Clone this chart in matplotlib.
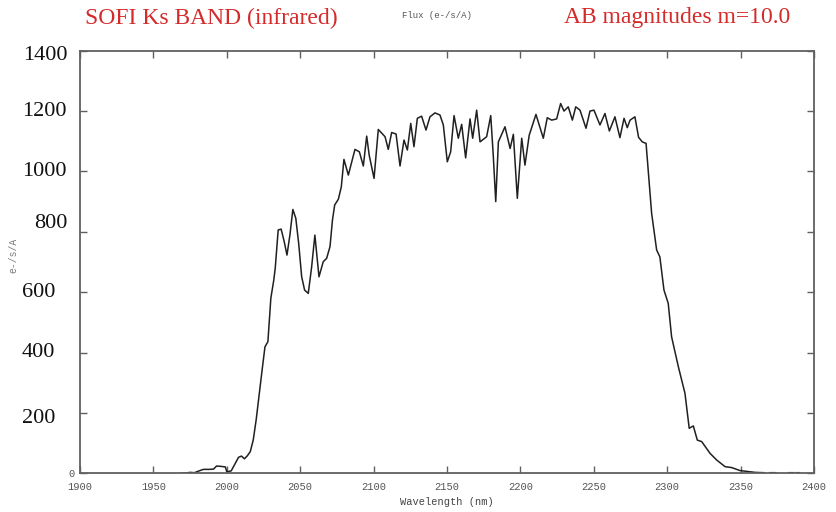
import numpy as np
import matplotlib
matplotlib.use("Agg")
import matplotlib.pyplot as plt
import matplotlib.transforms as mtransforms

# ---- data ----
wavelength = [1969, 1972, 1975, 1978, 1980, 1984, 1988, 1991, 1993, 1996, 1999, 2000,
              2003, 2006, 2008, 2010, 2012, 2014, 2016, 2018, 2020, 2022, 2024, 2026,
              2028, 2030, 2032, 2033, 2035, 2037, 2039, 2041, 2043, 2045, 2047, 2049,
              2051, 2053, 2055.5, 2057.8, 2060, 2062.8, 2065.7, 2068, 2070.3, 2072,
              2073.5, 2076, 2078, 2079.8, 2082.8, 2087.3, 2090.3, 2093, 2095.3, 2097,
              2100.3, 2103.2, 2107.8, 2110, 2112.3, 2115.3, 2118, 2120.7, 2123, 2125.3,
              2127.5, 2129.8, 2132.7, 2135.7, 2138.4, 2141.8, 2145.2, 2147.5, 2150.2,
              2152.5, 2154.8, 2157.7, 2160, 2162.7, 2165.7, 2167.5, 2170.2, 2172.5,
              2177, 2179.8, 2181.5, 2183.2, 2185, 2189.5, 2193, 2195.2, 2197.9, 2200.9,
              2203.1, 2206, 2210.6, 2215.6, 2218.3, 2221.3, 2224.7, 2227.4, 2229.7,
              2232.6, 2235.4, 2237.7, 2240.6, 2244.7, 2247.4, 2250.1, 2254.2, 2257.6,
              2260.6, 2264.4, 2267.8, 2270.6, 2272.8, 2274.7, 2278, 2280.5, 2283,
              2285.6, 2289.4, 2292.8, 2295, 2297.8, 2300.7, 2303, 2307.6, 2312.1, 2315,
              2317.8, 2320.5, 2323.5, 2329.2, 2333.7, 2339.4, 2343.9, 2349.6, 2356.4,
              2360, 2366, 2368, 2370, 2374, 2378, 2383, 2386, 2387, 2388, 2390]
flux = [0, 1, 3, 2, 6, 13, 13, 14, 24, 23, 21, 5,
        8, 35, 53, 57, 48, 58, 72, 110, 177, 260, 340, 419,
        436, 580, 640, 680, 806, 809, 770, 723, 790, 874, 845, 760,
        651, 607, 596, 684, 789, 651, 701, 712, 751, 840,
        889, 908, 949, 1040, 988, 1073, 1065, 1018, 1117, 1054,
        977, 1139, 1115, 1073, 1129, 1124, 1018, 1104, 1071, 1159,
        1082, 1176, 1183, 1137, 1181, 1194, 1187, 1154, 1032,
        1065, 1185, 1110, 1156, 1045, 1174, 1110, 1203, 1098,
        1115, 1185, 1054, 900, 1098, 1148, 1076, 1123, 911, 1110,
        1021, 1120, 1189, 1110, 1178, 1170, 1174, 1225, 1200,
        1214, 1170, 1214, 1203, 1143, 1200, 1203, 1154, 1192,
        1134, 1181, 1112, 1176, 1145, 1170, 1181, 1113, 1098,
        1093, 861, 740, 717, 607, 563, 452, 353, 265, 149,
        157, 110, 105, 66, 44, 22, 19, 9, 5,
        3, 2, np.nan, 2, 2, np.nan, 2, 2, np.nan, 2, 2]

x_ticks = [1900, 1950, 2000, 2050, 2100, 2150, 2200, 2250, 2300, 2350, 2400]
y_ticks = [0, 200, 400, 600, 800, 1000, 1200, 1400]
big_y_labels = ["200", "400", "600", "800", "1000", "1200", "1400"]
big_y_values = [200, 400, 600, 800, 1000, 1200, 1400]

title_left = "SOFI Ks BAND (infrared)"
title_right = "AB magnitudes m=10.0"
title_mid = "Flux (e-/s/A)"
x_label = "Wavelength (nm)"
y_label = "e-/s/A"

# ---- figure ----
fig = plt.figure(figsize=(8.37, 5.12), dpi=100)
ax = fig.add_axes([80 / 837, 1 - 473.3 / 512, 734 / 837, 422.6 / 512])

ax.plot(wavelength, flux, color="#202020", lw=1.1)
ax.set_xlim(1900, 2400)
ax.set_ylim(0, 1400)

frame_col = "#606060"
for s in ax.spines.values():
    s.set_color(frame_col)
    s.set_linewidth(1.3)

mono = "Liberation Mono"
ax.set_xticks(x_ticks)
ax.set_xticklabels([str(t) for t in x_ticks], family=mono, fontsize=7.5, color="#555555")
ax.set_yticks(y_ticks)
ax.set_yticklabels(["0"] + [""] * (len(y_ticks) - 1), family=mono, fontsize=7.5, color="#555555")
ax.tick_params(axis="both", direction="in", length=5, width=1, color=frame_col,
               top=True, right=True, pad=4)
ax.tick_params(axis="x", pad=6)

ax.set_xlabel(x_label, family=mono, fontsize=7.5, color="#444444", labelpad=4)

# big overlaid y labels
offsets = {"800": (12, 8), "200": (0, -6), "1400": (1, -5)}
for lab, val in zip(big_y_labels, big_y_values):
    dx, dy = offsets.get(lab, (0, 0))
    tr = mtransforms.offset_copy(ax.get_yaxis_transform(), fig=fig, x=dx, y=dy, units="dots")
    ax.text(-58 / 734, val, lab, transform=tr, ha="left", va="center",
            family="Liberation Serif", fontsize=16, color="#111111")

# rotated small y label (partly hidden in reference)
fig.text(13 / 837, 1 - 255 / 512, y_label, rotation=90, ha="center", va="center",
         family=mono, fontsize=7, color="#777777")

# titles
red = "#d42a2a"
fig.text(85 / 837, 1 - 18 / 512, title_left, ha="left", va="center",
         family="Liberation Serif", fontsize=17, color=red)
fig.text(790 / 837, 1 - 18 / 512, title_right, ha="right", va="center",
         family="Liberation Serif", fontsize=17, color=red)
fig.text(437 / 837, 1 - 15 / 512, title_mid, ha="center", va="center",
         family=mono, fontsize=6.5, color="#555555")

fig.savefig("out.png", dpi=100)
